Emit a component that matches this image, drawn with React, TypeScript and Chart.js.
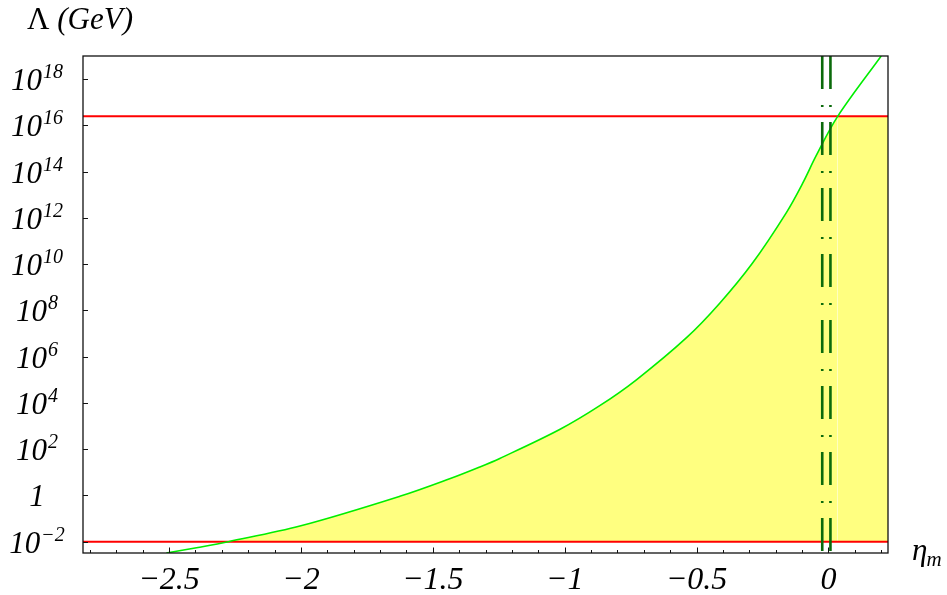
import { useEffect, useRef } from "react";
import { Chart, registerables } from "chart.js";

Chart.register(...registerables);

// ---- data ----
const etaM = [-2.51, -2.39, -2.275, -2.0, -1.625, -1.436, -1.322, -1.246, -1.019, -0.867, -0.728, -0.538, -0.413, -0.287, -0.16, -0.098, -0.046, 0.035, 0.2];
const log10Lambda = [-2.49, -2.25, -2.0, -1.315, -0.04, 0.72, 1.23, 1.6, 2.85, 3.88, 5.0, 6.82, 8.3, 10.06, 12.22, 13.49, 14.7, 16.39, 19.0];
const upperLimitLog = 16.39; // red line, ~2.5e16 GeV
const lowerLimitLog = -2; // red line, 1e-2 GeV
const verticalLinesX = [-0.0235, 0.0076];
const xRange = [-2.826, 0.2258];
const yRange = [-2.49, 19.0];
const xMajorTicks = [-2.5, -2, -1.5, -1, -0.5, 0];
const xTickLabels = ["\u22122.5", "\u22122", "\u22121.5", "\u22121", "\u22120.5", "0"];
const xMinorStep = 0.1;
const yTicks = [-2, 0, 2, 4, 6, 8, 10, 12, 14, 16, 18];
const yTickBase = ["10", "1", "10", "10", "10", "10", "10", "10", "10", "10", "10"];
const yTickExp = ["\u22122", "", "2", "4", "6", "8", "10", "12", "14", "16", "18"];

const SERIF = '"Liberation Serif", "DejaVu Serif", serif';

const framePlugin = {
  id: "frameAndLabels",
  afterDraw(chart: any) {
    const { ctx, chartArea: a } = chart;
    const xs = chart.scales.x;
    const ys = chart.scales.y;
    ctx.save();
    // frame
    ctx.strokeStyle = "#111";
    ctx.lineWidth = 1.3;
    ctx.strokeRect(a.left, a.top, a.right - a.left, a.bottom - a.top);
    ctx.lineWidth = 1;
    ctx.beginPath();
    // y ticks (inward)
    yTicks.forEach((v) => {
      const py = Math.round(ys.getPixelForValue(v)) + 0.5;
      ctx.moveTo(a.left, py);
      ctx.lineTo(a.left + 5, py);
    });
    // x minor + major ticks (inward)
    const n0 = Math.ceil(xRange[0] / xMinorStep - 1e-9);
    const n1 = Math.floor(xRange[1] / xMinorStep + 1e-9);
    for (let n = n0; n <= n1; n++) {
      const v = n * xMinorStep;
      const px = Math.round(xs.getPixelForValue(v)) + 0.5;
      const major = xMajorTicks.some((m) => Math.abs(m - v) < 1e-6);
      ctx.moveTo(px, a.bottom);
      ctx.lineTo(px, a.bottom - (major ? 5.5 : 3));
    }
    ctx.stroke();

    // y tick labels
    ctx.fillStyle = "#000";
    ctx.textBaseline = "alphabetic";
    ctx.textAlign = "left";
    const baseFont = `italic 31px ${SERIF}`;
    const expFont = `italic 20px ${SERIF}`;
    yTicks.forEach((v, i) => {
      const py = ys.getPixelForValue(v);
      ctx.font = baseFont;
      const wb = ctx.measureText(yTickBase[i]).width;
      ctx.font = expFont;
      const we = yTickExp[i] ? ctx.measureText(yTickExp[i]).width + 1 : 0;
      const total = wb + we;
      const x0 = 37 - total / 2;
      ctx.font = baseFont;
      ctx.fillText(yTickBase[i], x0, py + 11);
      if (yTickExp[i]) {
        ctx.font = expFont;
        ctx.fillText(yTickExp[i], x0 + wb + 1, py - 1);
      }
    });

    // x tick labels
    ctx.font = `italic 32px ${SERIF}`;
    ctx.textAlign = "center";
    xMajorTicks.forEach((v, i) => {
      const px = xs.getPixelForValue(v);
      ctx.fillText(xTickLabels[i], px, 589);
    });

    // axis titles
    ctx.textAlign = "left";
    ctx.font = `31px ${SERIF}`;
    ctx.fillText("\u039B", 27, 29);
    const wL = ctx.measureText("\u039B ").width;
    ctx.font = `italic 31px ${SERIF}`;
    ctx.fillText("(GeV)", 27 + wL, 29);

    ctx.font = `italic 31px ${SERIF}`;
    ctx.fillText("\u03B7", 912, 560);
    const wEta = ctx.measureText("\u03B7").width;
    ctx.font = `italic 21px ${SERIF}`;
    ctx.fillText("m", 911 + wEta, 566);
    ctx.restore();
  },
};

export default function App() {
  const ref = useRef<HTMLCanvasElement | null>(null);

  useEffect(() => {
    if (!ref.current) return;
    const curve = etaM.map((x, i) => ({ x, y: log10Lambda[i] }));
    const underCurve = curve.filter((p) => p.y >= lowerLimitLog - 1e-9 && p.y <= upperLimitLog + 1e-9);
    const crossX = underCurve[underCurve.length - 1].x;
    const flatTop = [
      { x: crossX, y: upperLimitLog },
      { x: xRange[1], y: upperLimitLog },
    ];
    const yellow = "#ffff80";

    const chart = new Chart(ref.current, {
      type: "line",
      data: {
        datasets: [
          {
            data: underCurve,
            borderWidth: 0,
            pointRadius: 0,
            backgroundColor: yellow,
            fill: { value: lowerLimitLog },
            tension: 0.35,
            order: 10,
          } as any,
          {
            data: flatTop,
            borderWidth: 0,
            pointRadius: 0,
            backgroundColor: yellow,
            fill: { value: lowerLimitLog },
            order: 9,
          },
          {
            data: [
              { x: xRange[0], y: upperLimitLog },
              { x: xRange[1], y: upperLimitLog },
            ],
            borderColor: "#ff0000",
            borderWidth: 2,
            pointRadius: 0,
            fill: false,
            order: 4,
          },
          {
            data: [
              { x: xRange[0], y: lowerLimitLog },
              { x: xRange[1], y: lowerLimitLog },
            ],
            borderColor: "#ff0000",
            borderWidth: 2,
            pointRadius: 0,
            fill: false,
            order: 4,
          },
          {
            data: curve,
            borderColor: "#00ee00",
            borderWidth: 1.6,
            pointRadius: 0,
            fill: false,
            tension: 0.35,
            order: 3,
          } as any,
          ...verticalLinesX.map((vx) => ({
            data: [
              { x: vx, y: yRange[1] },
              { x: vx, y: yRange[0] },
            ],
            borderColor: "#0b6a0b",
            borderWidth: 2.6,
            borderDash: [33, 16, 2, 15],
            pointRadius: 0,
            fill: false,
            order: 1,
          })),
        ],
      },
      options: {
        responsive: false,
        animation: false,
        parsing: false as any,
        layout: { padding: { left: 83, top: 56, right: 59, bottom: 42 } },
        plugins: { legend: { display: false }, tooltip: { enabled: false } },
        scales: {
          x: { type: "linear", min: xRange[0], max: xRange[1], display: false },
          y: { type: "linear", min: yRange[0], max: yRange[1], display: false },
        },
      },
      plugins: [framePlugin],
    });
    return () => chart.destroy();
  }, []);

  return (
    <div style={{ position: "absolute", left: 0, top: 0, width: 947, height: 595, background: "#fff" }}>
      <canvas ref={ref} width={947} height={595} />
    </div>
  );
}
